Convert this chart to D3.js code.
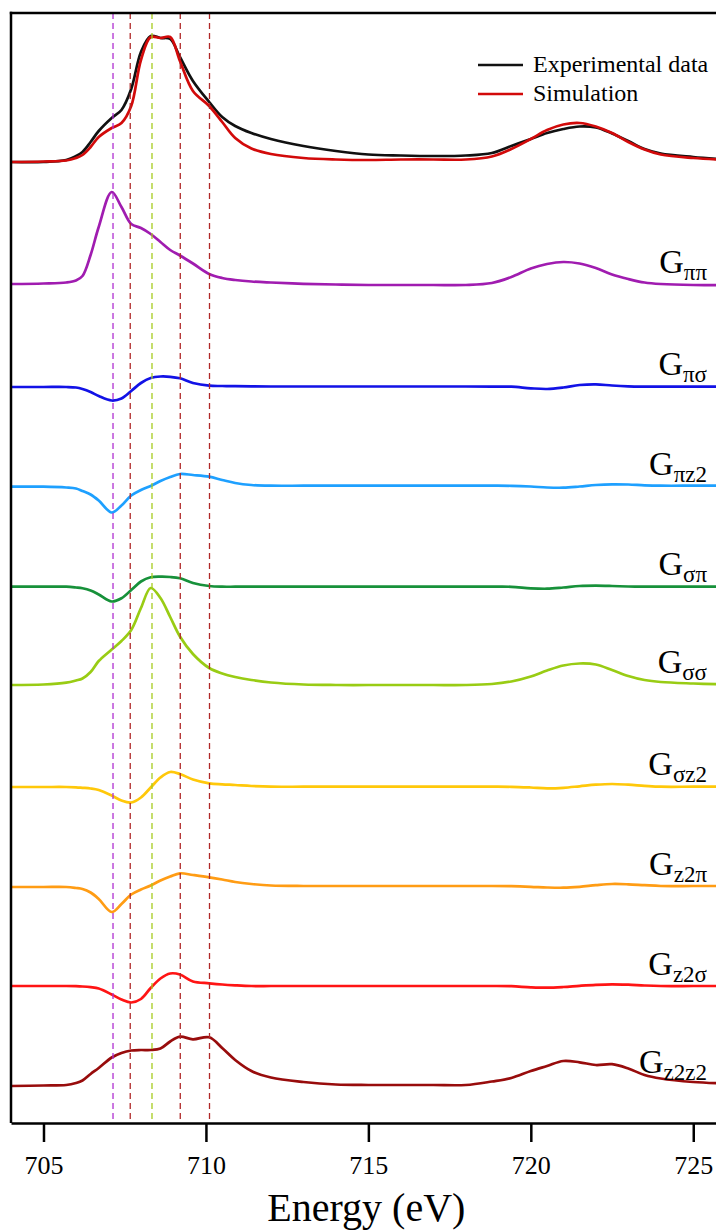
<!DOCTYPE html>
<html>
<head>
<meta charset="utf-8">
<script src="https://cdn.jsdelivr.net/npm/d3@7"></script>
<style>
  body { margin: 0; background: #fff; }
  svg { display: block; }
  text { font-family: "Liberation Serif", "Times New Roman", serif; }
</style>
</head>
<body>
<div id="chart"></div>
<script>
// Energy grid (eV) shared by all traces
const energy = [704.0, 705.0, 705.7, 706.0, 706.2, 706.45, 706.7, 707.1, 707.4, 707.7,
  708.0, 708.3, 708.6, 708.9, 709.2, 709.6, 710.1, 710.5, 710.9, 711.4,
  712.0, 713.0, 714.0, 715.0, 716.0, 717.0, 718.0, 718.8, 719.4, 720.0,
  720.5, 721.0, 721.5, 722.0, 722.5, 723.0, 723.5, 724.0, 725.0, 725.8];

// Intensities (a.u.) relative to each trace's own baseline
const experimental = [0.00, 0.00, 0.02, 0.06, 0.10, 0.20, 0.31, 0.44, 0.52, 0.73,
  1.10, 1.26, 1.24, 1.23, 1.05, 0.81, 0.60, 0.45, 0.36, 0.29,
  0.23, 0.16, 0.11, 0.075, 0.065, 0.06, 0.065, 0.09, 0.16, 0.23,
  0.29, 0.33, 0.355, 0.345, 0.285, 0.21, 0.13, 0.085, 0.05, 0.03];
const simulation = [0.00, 0.005, 0.015, 0.04, 0.07, 0.15, 0.25, 0.34, 0.39, 0.56,
  1.02, 1.25, 1.24, 1.25, 1.01, 0.71, 0.56, 0.40, 0.24, 0.135,
  0.08, 0.04, 0.025, 0.02, 0.025, 0.025, 0.025, 0.055, 0.13, 0.23,
  0.32, 0.375, 0.39, 0.355, 0.29, 0.20, 0.125, 0.075, 0.04, 0.025];

const gPiPi = [0.01, 0.015, 0.025, 0.045, 0.09, 0.30, 0.58, 0.93, 0.78, 0.61,
  0.57, 0.51, 0.43, 0.35, 0.295, 0.215, 0.11, 0.07, 0.05, 0.035,
  0.025, 0.012, 0.005, 0, 0, 0, 0, 0.02, 0.08, 0.165,
  0.21, 0.23, 0.215, 0.17, 0.105, 0.06, 0.025, 0.01, 0, 0];
const gPiSigma = [0, 0, 0, -0.005, -0.02, -0.05, -0.09, -0.135, -0.115, -0.04,
  0.04, 0.09, 0.105, 0.102, 0.087, 0.04, 0.013, 0.01, 0.008, 0.006,
  0.005, 0.005, 0.005, 0.005, 0.005, 0.005, 0.005, 0.004, 0.003, -0.013,
  -0.02, -0.005, 0.02, 0.027, 0.015, 0.007, 0.004, 0.003, 0.003, 0.003];
const gPiZ2 = [0.003, 0.003, -0.005, -0.015, -0.04, -0.075, -0.135, -0.255, -0.185, -0.085,
  -0.03, 0.01, 0.06, 0.10, 0.13, 0.12, 0.103, 0.07, 0.04, 0.02,
  0.013, 0.013, 0.013, 0.013, 0.013, 0.013, 0.013, 0.013, 0.012, 0.005,
  -0.005, -0.007, 0.005, 0.02, 0.027, 0.025, 0.017, 0.013, 0.013, 0.013];
const gSigmaPi = [0.003, 0.003, 0.003, -0.005, -0.013, -0.035, -0.075, -0.145, -0.113, -0.03,
  0.055, 0.097, 0.103, 0.10, 0.087, 0.04, 0.01, 0.003, 0.003, 0.003,
  0.003, 0.003, 0.003, 0.003, 0.003, 0.003, 0.003, 0.003, 0.002, -0.013,
  -0.017, -0.005, 0.01, 0.013, 0.01, 0.005, 0.003, 0.003, 0.003, 0.003];
const gSigmaSigma = [0, 0.005, 0.023, 0.045, 0.065, 0.13, 0.24, 0.355, 0.44, 0.55,
  0.77, 0.97, 0.87, 0.68, 0.485, 0.31, 0.17, 0.115, 0.08, 0.05,
  0.025, 0.005, 0, 0, 0, 0, 0, 0.01, 0.035, 0.085,
  0.145, 0.195, 0.215, 0.205, 0.15, 0.09, 0.05, 0.03, 0.015, 0.007];
const gSigmaZ2 = [0, 0, 0, -0.003, -0.008, -0.015, -0.03, -0.085, -0.135, -0.155,
  -0.105, -0.005, 0.095, 0.15, 0.13, 0.075, 0.037, 0.027, 0.02, 0.01,
  0.003, 0.003, 0.003, 0.003, 0.003, 0.003, 0.003, 0.003, 0.002, -0.005,
  -0.013, -0.008, 0.007, 0.023, 0.03, 0.023, 0.012, 0.003, 0.003, 0.003];
const gZ2Pi = [0, 0, 0, -0.01, -0.02, -0.055, -0.12, -0.25, -0.17, -0.075,
  -0.025, 0.015, 0.065, 0.105, 0.137, 0.12, 0.097, 0.075, 0.05, 0.03,
  0.015, 0.01, 0.01, 0.01, 0.01, 0.01, 0.01, 0.01, 0.008, 0.002,
  -0.005, -0.007, 0.002, 0.018, 0.03, 0.027, 0.018, 0.01, 0.01, 0.01];
const gZ2Sigma = [0.01, 0.01, 0.01, 0.008, 0.005, -0.002, -0.015, -0.075, -0.125, -0.155,
  -0.12, -0.01, 0.085, 0.135, 0.125, 0.055, 0.037, 0.025, 0.017, 0.01,
  0.01, 0.01, 0.01, 0.01, 0.01, 0.01, 0.01, 0.01, 0.008, -0.003,
  -0.007, 0, 0.012, 0.022, 0.027, 0.023, 0.015, 0.01, 0.01, 0.01];
const gZ2Z2 = [-0.01, -0.005, 0, 0.02, 0.045, 0.11, 0.17, 0.275, 0.32, 0.345,
  0.35, 0.35, 0.365, 0.435, 0.483, 0.457, 0.477, 0.37, 0.25, 0.14,
  0.075, 0.03, 0.005, 0, 0, 0, 0, 0.035, 0.07, 0.14,
  0.19, 0.24, 0.227, 0.20, 0.208, 0.165, 0.10, 0.065, 0.03, 0.017];

// Component names (subscripts of G), vertical offsets of the stacked traces
const componentSubs = ['ππ', 'πσ', 'πz2', 'σπ', 'σσ', 'σz2', 'z2π', 'z2σ', 'z2z2'];
const componentValues = [gPiPi, gPiSigma, gPiZ2, gSigmaPi, gSigmaSigma, gSigmaZ2, gZ2Pi, gZ2Sigma, gZ2Z2];
const componentOffsets = [8.0, 6.98, 5.98, 4.98, 4.0, 2.98, 1.98, 0.98, 0];
const topOffset = 9.23;

// Dashed reference energies
const markerEnergies = [707.14, 707.67, 708.34, 709.21, 710.11];
const xTicks = [705, 710, 715, 720, 725];
const legendLabels = ['Experimental data', 'Simulation'];

// styles
const componentColors = ['#a01cb0', '#1212e6', '#1ea0ff', '#17913a', '#99cc14', '#ffc80a', '#ff9c14', '#ff1414', '#980c0c'];
const topColors = ['#111111', '#d20a0a'];
const markerColors = ['#b030d0', '#b02828', '#a6cc1e', '#b02828', '#b02828'];

const W = 716, H = 1230;
const plotLeft = 11, plotTop = 13, plotBottom = 1123;

const svg = d3.select('#chart')
  .append('svg')
  .attr('width', W)
  .attr('height', H);

const x = d3.scaleLinear().domain([704, 725.7]).range([plotLeft, W]);
const y = d3.scaleLinear().domain([-0.38, 10.72]).range([plotBottom, plotTop]);

svg.append('clipPath').attr('id', 'plot')
  .append('rect')
  .attr('x', plotLeft).attr('y', plotTop)
  .attr('width', W - plotLeft).attr('height', plotBottom - plotTop);

const line = offset => d3.line()
  .x((d, i) => x(energy[i]))
  .y(d => y(d + offset))
  .curve(d3.curveCatmullRom.alpha(0.5));

const plot = svg.append('g').attr('clip-path', 'url(#plot)');

// component traces
componentValues.forEach((vals, k) => {
  plot.append('path')
    .datum(vals)
    .attr('fill', 'none')
    .attr('stroke', componentColors[k])
    .attr('stroke-width', 2.7)
    .attr('d', line(componentOffsets[k]));
});

// experimental + simulation
[experimental, simulation].forEach((vals, k) => {
  plot.append('path')
    .datum(vals)
    .attr('fill', 'none')
    .attr('stroke', topColors[k])
    .attr('stroke-width', 2.7)
    .attr('d', line(topOffset));
});

// dashed markers
plot.selectAll('.marker')
  .data(markerEnergies)
  .enter().append('line')
  .attr('class', 'marker')
  .attr('x1', d => x(d)).attr('x2', d => x(d))
  .attr('y1', plotTop).attr('y2', plotBottom)
  .attr('stroke', (d, i) => markerColors[i])
  .attr('stroke-width', 1.3)
  .attr('stroke-dasharray', '6,4');

// component labels
componentSubs.forEach((sub, k) => {
  const t = svg.append('text')
    .attr('x', 707)
    .attr('y', y(componentOffsets[k]) - 12)
    .attr('text-anchor', 'end')
    .attr('fill', '#000');
  t.append('tspan').attr('font-size', 34).text('G');
  t.append('tspan').attr('font-size', 23).attr('dy', 7).text(sub);
});

// legend
legendLabels.forEach((label, k) => {
  const ly = 65 + k * 29;
  svg.append('line')
    .attr('x1', 478).attr('x2', 523)
    .attr('y1', ly).attr('y2', ly)
    .attr('stroke', topColors[k])
    .attr('stroke-width', 2.7);
  svg.append('text')
    .attr('x', 533).attr('y', ly + 7)
    .attr('font-size', 24)
    .attr('fill', '#000')
    .text(label);
});

// frame
svg.append('line')
  .attr('x1', plotLeft).attr('x2', plotLeft)
  .attr('y1', plotTop - 1.2).attr('y2', plotBottom)
  .attr('stroke', '#000').attr('stroke-width', 2.5);
svg.append('line')
  .attr('x1', plotLeft - 1.2).attr('x2', W)
  .attr('y1', plotTop).attr('y2', plotTop)
  .attr('stroke', '#000').attr('stroke-width', 2.5);

// x-axis
const xAxis = svg.append('g')
  .attr('transform', `translate(0, ${plotBottom})`)
  .call(d3.axisBottom(x).tickValues(xTicks).tickSize(19).tickSizeOuter(0).tickPadding(14).tickFormat(d3.format('d')));
xAxis.select('.domain').attr('stroke-width', 2.5);
xAxis.selectAll('.tick line').attr('stroke-width', 2.5);
xAxis.selectAll('.tick text')
  .attr('font-size', 26)
  .attr('fill', '#000');

svg.append('text')
  .attr('x', x(715) - 2)
  .attr('y', 1221)
  .attr('text-anchor', 'middle')
  .attr('font-size', 40)
  .attr('fill', '#000')
  .text('Energy (eV)');
</script>
</body>
</html>
